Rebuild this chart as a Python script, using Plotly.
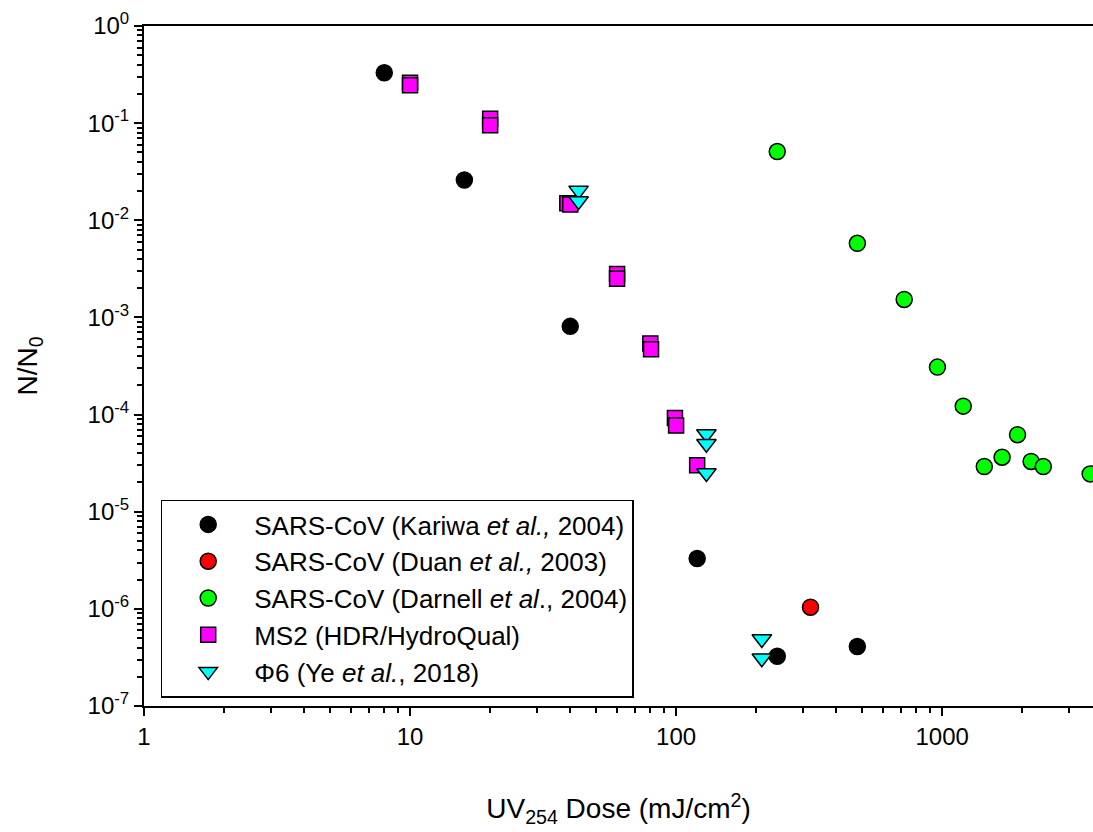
import plotly.graph_objects as go

# ---- data ----
kariwa_x = [8, 16, 40, 120, 240, 480]
kariwa_y = [0.33, 0.026, 8.1e-4, 3.3e-6, 3.25e-7, 4.1e-7]

duan_x = [320]
duan_y = [1.04e-6]

darnell_x = [240, 480, 720, 960, 1200, 1440, 1680, 1920, 2160, 2400, 3600]
darnell_y = [0.051, 5.8e-3, 1.53e-3, 3.08e-4, 1.22e-4, 2.92e-5, 3.64e-5, 6.2e-5, 3.29e-5, 2.92e-5, 2.45e-5]

ms2_x = [10, 10, 20, 20, 39, 40, 60, 60, 80, 80.5, 99, 100, 120]
ms2_y = [0.26, 0.245, 0.111, 0.095, 0.0150, 0.0145, 2.8e-3, 2.5e-3, 5.4e-4, 4.7e-4, 9.2e-5, 7.7e-5, 3.0e-5]

phi6_x = [43, 43, 130, 130, 130, 210, 210]
phi6_y = [0.0203, 0.0158, 6.3e-5, 5.0e-5, 2.5e-5, 4.9e-7, 3.1e-7]

x_tickvals = [1, 10, 100, 1000]
x_ticktext = ["1", "10", "100", "1000"]
y_exponents = [0, -1, -2, -3, -4, -5, -6, -7]

FONT = "Liberation Sans, Arial, sans-serif"

fig = go.Figure()

def add(name, xs, ys, symbol, color, size=16):
    fig.add_trace(go.Scatter(
        x=xs, y=ys, mode="markers", name=name,
        marker=dict(symbol=symbol, color=color, size=size,
                    line=dict(color="black", width=1.5)),
    ))

add("SARS-CoV (Kariwa <i>et al.,</i> 2004)", kariwa_x, kariwa_y, "circle", "black")
add("SARS-CoV (Duan <i>et al.,</i> 2003)", duan_x, duan_y, "circle", "#ff0000")
add("SARS-CoV (Darnell <i>et al</i>., 2004)", darnell_x, darnell_y, "circle", "#00ff00")
add("MS2 (HDR/HydroQual)", ms2_x, ms2_y, "square", "#ff00ff", 15)
add("Φ6 (Ye <i>et al.</i>, 2018)", phi6_x, phi6_y, "triangle-down", "#00ffff", 17)

x_minor = [k * 10 ** e for e in range(0, 4) for k in range(2, 10)]
y_minor = [k * 10 ** e for e in range(-7, 0) for k in range(2, 10)]

fig.update_layout(
    width=1093, height=832, autosize=False,
    margin=dict(l=144, r=0, t=26, b=126),
    paper_bgcolor="white", plot_bgcolor="white",
    font=dict(family=FONT, size=24, color="black"),
    showlegend=True,
    legend=dict(
        x=0.0176, y=0.0125, xanchor="left", yanchor="bottom",
        bgcolor="white", bordercolor="black", borderwidth=1.5,
        font=dict(family=FONT, size=26, color="black"),
        itemwidth=82,
    ),
    xaxis=dict(
        type="log", range=[0, 3.567],
        tickmode="array", tickvals=x_tickvals, ticktext=x_ticktext,
        ticks="outside", ticklen=8, tickwidth=1.5, tickcolor="black",
        showline=True, linecolor="black", linewidth=2, mirror=True,
        showgrid=False, zeroline=False,
        minor=dict(tickmode="array", tickvals=x_minor, ticks="outside",
                   ticklen=5, tickwidth=1.5, tickcolor="black", showgrid=False),
        tickfont=dict(size=24),
        title=dict(text="UV<sub>254</sub> Dose (mJ/cm<sup>2</sup>)",
                   font=dict(size=28), standoff=50),
    ),
    yaxis=dict(
        type="log", range=[-7, 0],
        tickmode="array", tickvals=[10 ** e for e in y_exponents],
        ticktext=["10<sup>%d</sup>" % e for e in y_exponents],
        ticks="outside", ticklen=8, tickwidth=1.5, tickcolor="black",
        showline=True, linecolor="black", linewidth=2, mirror=False,
        showgrid=False, zeroline=False,
        minor=dict(tickmode="array", tickvals=y_minor, ticks="outside",
                   ticklen=5, tickwidth=1.5, tickcolor="black", showgrid=False),
        tickfont=dict(size=24),
        title=dict(text="N/N<sub>0</sub>", font=dict(size=28), standoff=42),
    ),
)

fig.write_html("out.html")
